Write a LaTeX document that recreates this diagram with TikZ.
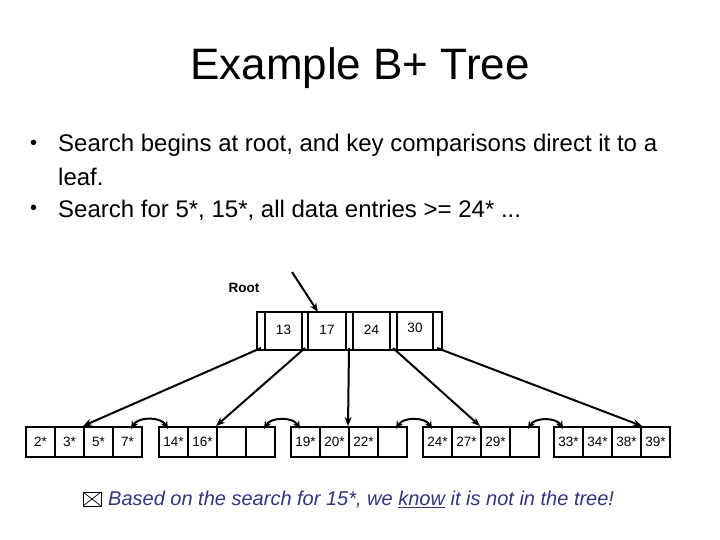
\documentclass[tikz,border=0pt]{standalone}
\usepackage{fontspec}
\setmainfont{Liberation Sans}
\usetikzlibrary{arrows.meta}
\definecolor{note}{RGB}{51,51,128}
\begin{document}
\begin{tikzpicture}[x=1pt,y=-1pt,
  cellbox/.style={draw,line width=2pt,minimum width=29pt,minimum height=30pt,inner sep=0pt,anchor=north west,font=\fontsize{13.5}{15}\selectfont},
  ptr/.style={line width=2pt,-{Stealth[length=9pt,width=7pt]}},
  sib/.style={line width=2pt,{Stealth[length=8pt,width=7pt]}-{Stealth[length=8pt,width=7pt]}},
  txt/.style={anchor=west,inner sep=0pt,font=\fontsize{24}{28}\selectfont}]
\useasboundingbox (0,0) rectangle (720,540);
\node (title) at (360,68) {\fontsize{44}{52}\selectfont Example B+ Tree};
\node[txt,font=\fontsize{20}{24}\selectfont] (b1) at (30,145) {•};
\node[txt] (t1) at (58,145) {Search begins at root, and key comparisons direct it to a};
\node[txt] (t1b) at (58,177) {leaf.};
\node[txt,font=\fontsize{20}{24}\selectfont] (b2) at (30,210) {•};
\node[txt] (t2) at (58,210) {Search for 5*, 15*, all data entries >= 24* ...};
% root
\node[font=\bfseries\fontsize{13.5}{15}\selectfont] (rootlbl) at (244,288) {Root};
\draw[line width=2pt] (257,312) rectangle (442,350);
\foreach \x in {265,302,308,346,353,390,397,433} \draw[line width=2pt] (\x,312) -- (\x,350);
\node[font=\fontsize{13.5}{15}\selectfont] (k13) at (283.5,330) {13};
\node[font=\fontsize{13.5}{15}\selectfont] (k17) at (327,330) {17};
\node[font=\fontsize{13.5}{15}\selectfont] (k24) at (371.5,330) {24};
\node[font=\fontsize{13.5}{15}\selectfont] (k30) at (415,328) {30};
\coordinate (p1) at (261,348);
\coordinate (p2) at (305,348);
\coordinate (p3) at (349,348);
\coordinate (p4) at (393,348);
\coordinate (p5) at (437,348);
\coordinate (rin) at (292,272);
\coordinate (rtop) at (318,312);
\draw[ptr] (rin) -- (rtop);
% leaves
\foreach \lx/\n/\a/\b/\c/\d in {25/1/2*/3*/5*/7*,158/2/14*/16*//,290/3/19*/20*/22*/,422/4/24*/27*/29*/,553/5/33*/34*/38*/39*}{
  \node[cellbox] (l\n a) at (\lx,426) {\a};
  \node[cellbox] (l\n b) at (\lx+29,426) {\b};
  \node[cellbox] (l\n c) at (\lx+58,426) {\c};
  \node[cellbox] (l\n d) at (\lx+87,426) {\d};
}
\draw[ptr] (p1) -- (l1c.north west);
\draw[ptr] (p2) -- (l2c.north west);
\draw[ptr] (p3) -- (l3c.north west);
\draw[ptr] (p4) -- (l4c.north west);
\draw[ptr] (p5) -- (l5c.north east);
\foreach \i/\j in {1/2,2/3,3/4,4/5}{
  \draw[sib] ([xshift=-12pt,yshift=-3pt]l\i d.north east) to[out=60,in=120] ([xshift=10pt,yshift=-3pt]l\j a.north west);
}
% note
\draw[line width=0.9pt] (83,492) rectangle (101,506);
\draw[line width=0.7pt] (83,492) -- (101,506) (101,492) -- (83,506);
\node[anchor=west,inner sep=0pt,text=note,font=\itshape\fontsize{20}{24}\selectfont] (note) at (108,500) {Based on the search for 15*, we \underline{know} it is not in the tree!};
\end{tikzpicture}
\end{document}
